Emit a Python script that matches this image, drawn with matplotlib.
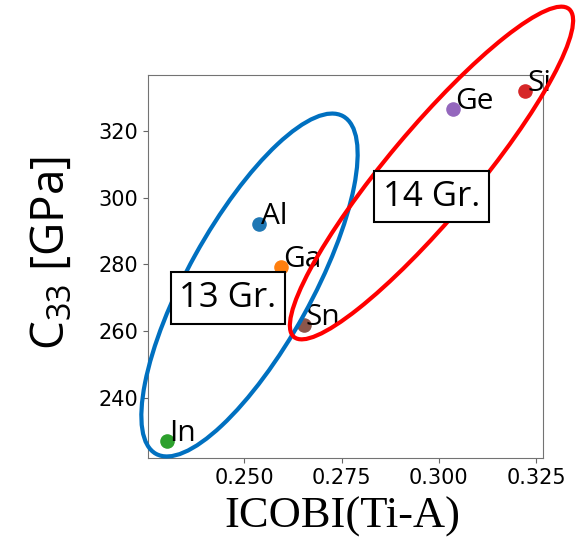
import matplotlib
import matplotlib.pyplot as plt
from matplotlib.patches import Ellipse

matplotlib.rcParams['font.family'] = 'DejaVu Sans'
matplotlib.rcParams['mathtext.fontset'] = 'custom'
matplotlib.rcParams['mathtext.rm'] = 'Open Sans'
matplotlib.rcParams['mathtext.it'] = 'Open Sans:italic'

# ICOBI of the Ti-A bond vs. elastic constant C33 for each A element
elements = ['Al', 'Ga', 'In', 'Si', 'Ge', 'Sn']
icobi = [0.2538, 0.2595, 0.2302, 0.3222, 0.3036, 0.2653]
c33 = [292.1, 279.1, 227.1, 332.0, 326.6, 261.8]

xticks = [0.250, 0.275, 0.300, 0.325]
yticks = [240, 260, 280, 300, 320]

fig = plt.figure(figsize=(5.87, 5.39), dpi=100, facecolor='white')
ax = fig.add_axes([0.2521, 0.1503, 0.6729, 0.7106])

for i, (el, x, y) in enumerate(zip(elements, icobi, c33)):
    ax.scatter(x, y, s=90, color='C%d' % i, zorder=3)
    ax.annotate(el, (x, y), xytext=(1.5, 0), textcoords='offset points',
                family='Open Sans', fontsize=21.5, va='baseline', ha='left',
                zorder=4)

ax.set_xticks(xticks)
ax.set_yticks(yticks)
ax.tick_params(labelsize=15, color='0.4')
for sp in ax.spines.values():
    sp.set_color('0.45')

ax.set_xlabel('ICOBI(Ti-A)', family='Liberation Serif', fontsize=32)
ax.xaxis.set_label_coords(0.492, -0.102)
ax.set_ylabel('C$_{33}$ [GPa]', family='Open Sans', fontsize=33)
ax.yaxis.set_label_coords(-0.187, 0.534)

# group ellipses, laid out in figure pixels (centre x, centre y from top, half axes, angle)
groups = [((249.5, 285.0), 193, 62, 61, '#0070C0'),
          ((431.5, 173.0), 214, 44, 50, '#FF0000')]
H = 539.0
for (cx, cy), a, b, ang, col in groups:
    e = Ellipse((cx / 100, (H - cy) / 100), 2 * a / 100, 2 * b / 100, angle=ang,
                fill=False, ec=col, lw=3.0, transform=fig.dpi_scale_trans,
                clip_on=False, zorder=5)
    ax.add_patch(e)

box = dict(boxstyle='square,pad=0.25', fc='white', ec='black', lw=1.5)
ax.text(0.202, 0.418, '13 Gr.', transform=ax.transAxes, family='Open Sans',
        fontsize=25, ha='center', va='center', bbox=box, zorder=6)
ax.text(0.718, 0.682, '14 Gr.', transform=ax.transAxes, family='Open Sans',
        fontsize=25, ha='center', va='center', bbox=box, zorder=6)

ax.set_xlim(0.2252, 0.3268)
ax.set_ylim(221.9, 336.8)

fig.savefig('out.png', dpi=100, facecolor='white')
